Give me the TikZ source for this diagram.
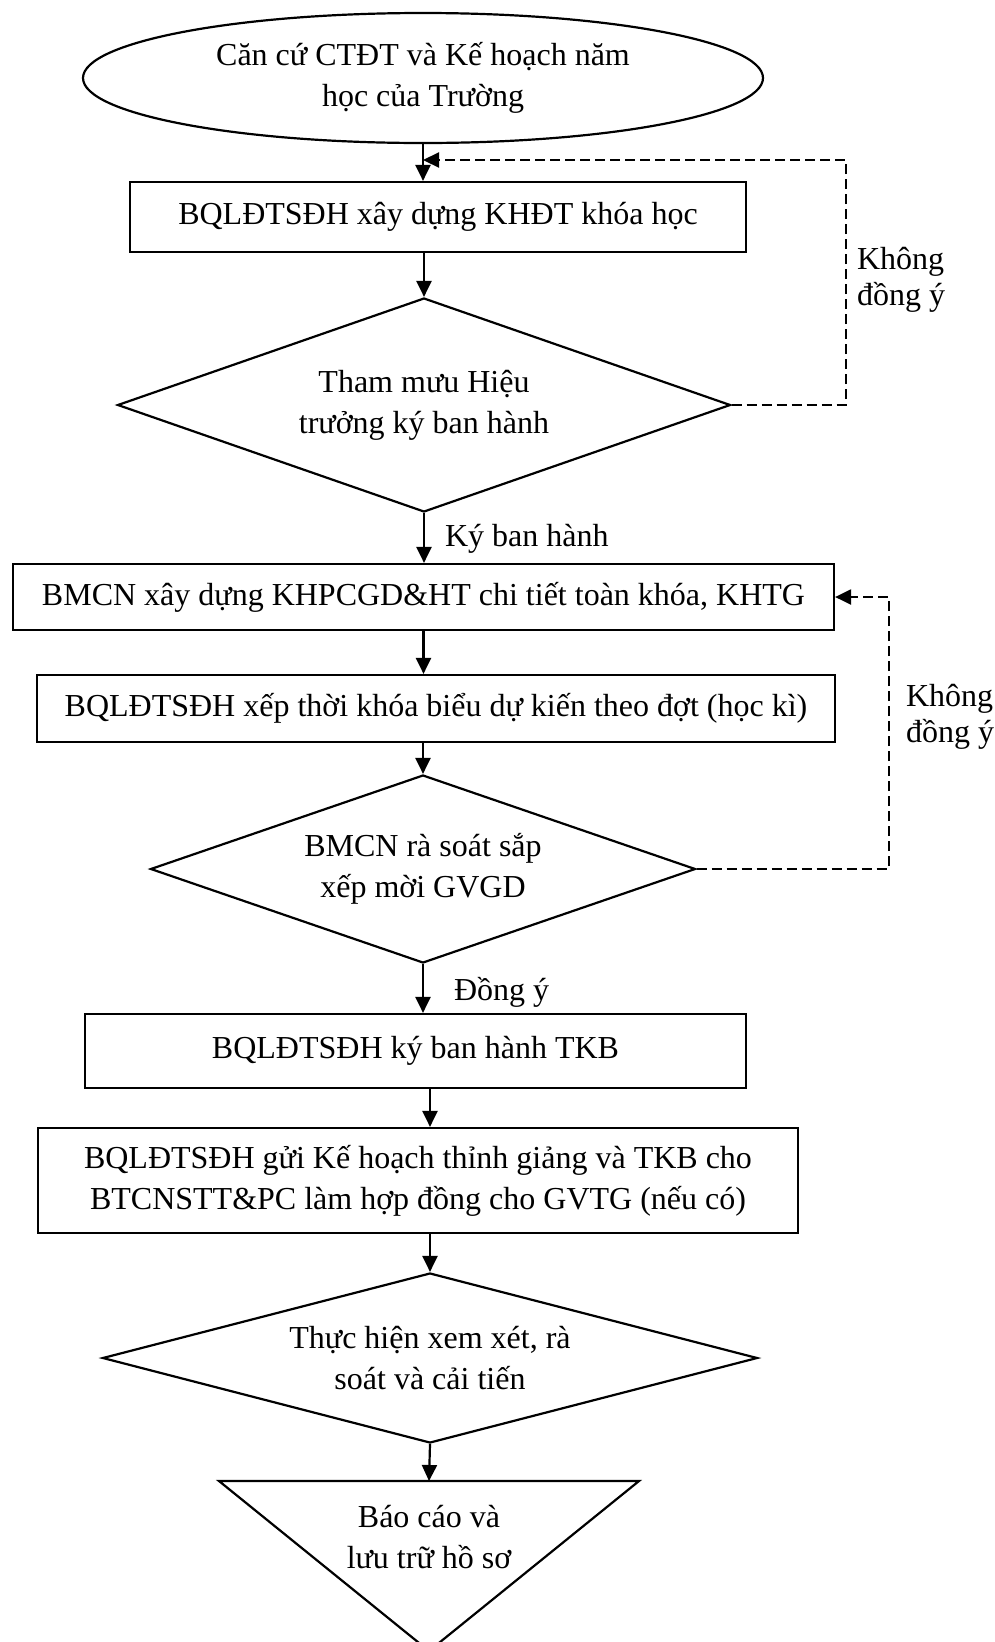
\documentclass[tikz,border=0pt]{standalone}
\usepackage{fontspec}
\setmainfont{Liberation Serif}
\usetikzlibrary{shapes.geometric, arrows.meta}

\begin{document}
\begin{tikzpicture}[x=1pt, y=-1pt,
  line width=2.2pt, >={Triangle[length=16pt,width=15pt]},
  every node/.style={font=\fontsize{32}{41}\selectfont, align=center, inner sep=0pt},
  startbox/.style={draw, ellipse, minimum width=680pt, minimum height=130pt},
  taskbox/.style={draw, rectangle},
  checkbox/.style={draw, diamond},
  backline/.style={dash pattern=on 10pt off 5pt},
  note/.style={anchor=west, align=left, font=\fontsize{32}{36}\selectfont}]
\useasboundingbox (0,0) rectangle (995,1642);

% shapes
\node[startbox] (ell) at (423,78) {Căn cứ CTĐT và Kế hoạch năm\\học của Trường};
\node[taskbox, minimum width=616pt, minimum height=70pt] (b1) at (438,217) {BQLĐTSĐH xây dựng KHĐT khóa học};
\node[checkbox, minimum width=613pt, minimum height=214pt, aspect=2.9] (d1) at (424,405) {Tham mưu Hiệu\\trưởng ký ban hành};
\node[taskbox, minimum width=821pt, minimum height=66pt] (b2) at (423.5,597) {BMCN xây dựng KHPCGD\&HT chi tiết toàn khóa, KHTG};
\node[taskbox, minimum width=798pt, minimum height=67pt] (b3) at (436,708.5) {BQLĐTSĐH xếp thời khóa biểu dự kiến theo đợt (học kì)};
\node[checkbox, minimum width=545pt, minimum height=188pt, aspect=2.9] (d2) at (423,869) {BMCN rà soát sắp\\xếp mời GVGD};
\node[taskbox, minimum width=661pt, minimum height=74pt] (b4) at (415.5,1051) {BQLĐTSĐH ký ban hành TKB};
\node[taskbox, minimum width=760pt, minimum height=105pt] (b5) at (418,1180.5) {BQLĐTSĐH gửi Kế hoạch thỉnh giảng và TKB cho\\BTCNSTT\&PC làm hợp đồng cho GVTG (nếu có)};
\node[checkbox, minimum width=655pt, minimum height=170pt, aspect=3.9] (d3) at (430,1358) {Thực hiện xem xét, rà\\soát và cải tiến};
\node (tri) at (429,1537) {Báo cáo và\\lưu trữ hồ sơ};
\coordinate (tritop) at (429,1481);
\draw (219,1481) -- (639,1481) -- (429,1651) -- cycle;

% labels
\node[note] (no1) at (856,280) {Không\\đồng ý};
\node[note] (no2) at (905,717) {Không\\đồng ý};
\node[note] (yes1) at (444,539) {Ký ban hành};
\node[note] (yes2) at (453,992) {Đồng ý};

% arrows
\coordinate (m1) at (423,160);
\draw[->] (ell.south) -- (ell.south |- b1.north);
\draw[->] (b1.south -| d1.north) -- (d1.north);
\draw[->] (d1.south) -- (d1.south |- b2.north);
\draw[->] (b2.south) -- (b2.south |- b3.north);
\draw[->] (b3.south -| d2.north) -- (d2.north);
\draw[->] (d2.south) -- (d2.south |- b4.north);
\draw[->] (b4.south -| d3.north) -- (b5.north -| d3.north);
\draw[->] (b5.south -| d3.north) -- (d3.north);
\draw[->] (d3.south) -- (tritop);

% loops back
\draw[backline, ->] (d1.east) -- ++(114,0) |- (m1);
\draw[backline, ->] (d2.east) -- ++(192,0) |- (b2.east);
\end{tikzpicture}
\end{document}
